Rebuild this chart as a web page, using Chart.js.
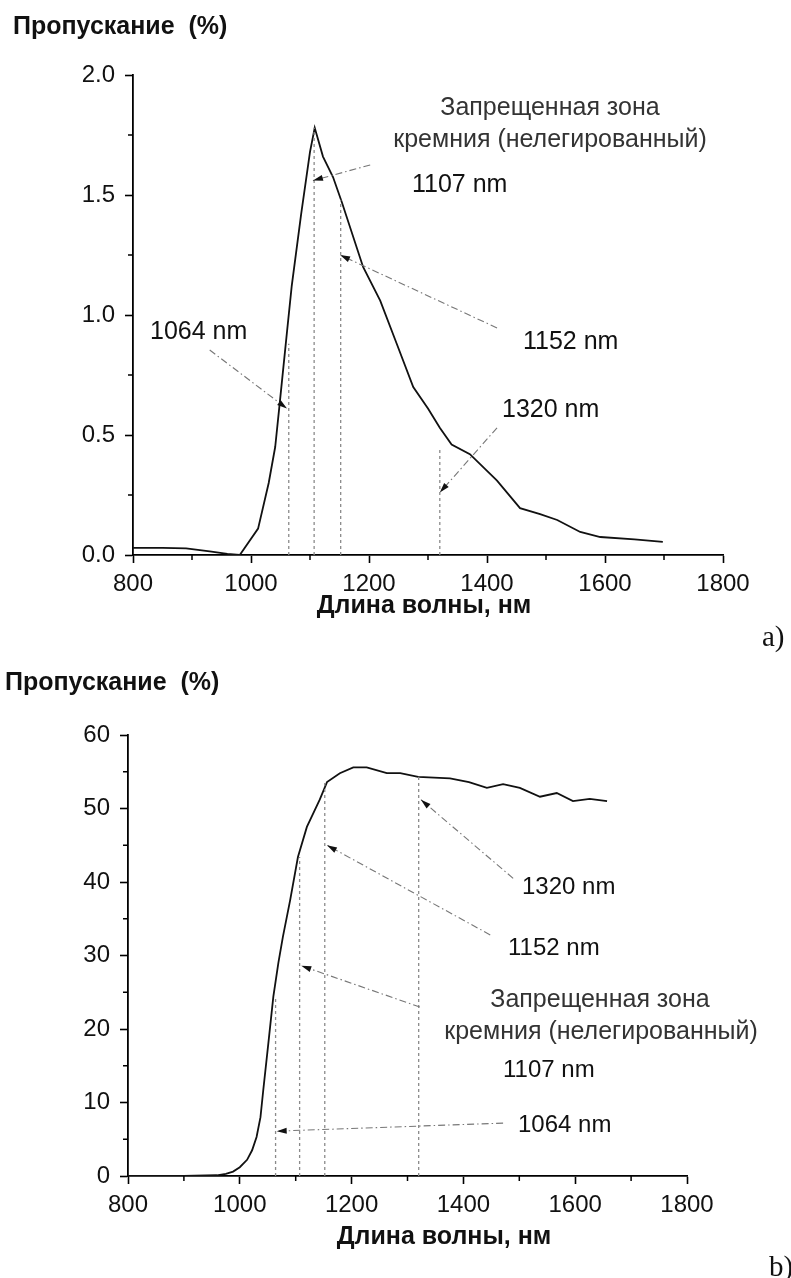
<!DOCTYPE html>
<html>
<head>
<meta charset="utf-8">
<script src="https://cdn.jsdelivr.net/npm/chart.js@4.4.1/dist/chart.umd.min.js"></script>
<style>
  body { margin: 0; background: #fff; width: 791px; height: 1278px; overflow: hidden; position: relative; }
  .wrap { position: absolute; left: 0; width: 791px; }
  #wrapA { top: 0; height: 640px; }
  #wrapB { top: 640px; height: 638px; }
  .tag { position: absolute; font-family: 'Liberation Serif', 'Times New Roman', serif; font-size: 29px; color: #111; }
</style>
</head>
<body>
<div class="wrap" id="wrapA"><canvas id="chartA"></canvas></div>
<div class="wrap" id="wrapB"><canvas id="chartB"></canvas></div>
<div class="tag" style="left:762px; top:620px;">a)</div>
<div class="tag" style="left:769px; top:1250px;">b)</div>
<script>
// chart a: пропускание, %
const wavelengthA = [800, 850, 890, 930, 960, 981, 1012, 1030, 1041, 1049, 1061, 1069, 1085, 1100, 1108, 1122, 1139, 1154, 1190, 1219, 1247, 1275, 1300, 1320, 1340, 1371, 1417, 1456, 1490, 1519, 1558, 1592, 1650, 1698];
const transmissionA = [0.03, 0.03, 0.028, 0.015, 0.005, 0.0, 0.11, 0.3, 0.45, 0.64, 0.93, 1.12, 1.42, 1.68, 1.78, 1.66, 1.575, 1.47, 1.2, 1.06, 0.88, 0.70, 0.61, 0.53, 0.46, 0.42, 0.31, 0.195, 0.17, 0.146, 0.096, 0.075, 0.065, 0.055];

// chart b
const wavelengthB = [800, 900, 959, 975, 988, 1000, 1013, 1022, 1030, 1037, 1042, 1051, 1060, 1069, 1077, 1090, 1104, 1120, 1143, 1156, 1179, 1203, 1227, 1263, 1287, 1319, 1376, 1410, 1442, 1471, 1501, 1537, 1567, 1596, 1626, 1657];
const transmissionB = [0, 0, 0.1, 0.3, 0.6, 1.2, 2.2, 3.5, 5.3, 8, 11.7, 18, 24.4, 29, 32.5, 37.5, 43.4, 47.5, 51.2, 53.6, 54.8, 55.6, 55.6, 54.8, 54.8, 54.3, 54.1, 53.6, 52.8, 53.3, 52.8, 51.6, 52.1, 51.0, 51.3, 51.0];

// laser / band-gap wavelengths
const markerNm = [1064, 1107, 1152, 1320];
const markerTopA = [0.88, 1.78, 1.48, 0.45];
const markerTopB = [24.4, 43.4, 53.6, 54.3];

const FONT = "'Liberation Sans', Arial, sans-serif";

// leaders in data units: [fromNm, fromValue, toNm, toValue]
const leadersA = [
  [930, 0.854, 1061, 0.61],
  [1202, 1.625, 1105, 1.56],
  [1417, 0.946, 1151, 1.25],
  [1417, 0.53, 1320, 0.26]
];
const leadersB = [
  [1471, 7.2, 1066, 6.1],
  [1322, 23, 1110, 28.6],
  [1448, 32.8, 1156, 45],
  [1489, 40.5, 1324, 51.2]
];

const textsA = [
  { text: 'Пропускание  (%)', x: 13, y: 27, align: 'left', font: 'bold 25px ' + FONT },
  { text: 'Длина волны, нм', x: 424, y: 606, align: 'center', font: 'bold 25px ' + FONT },
  { text: 'Запрещенная зона', x: 550, y: 108, align: 'center', font: '25px ' + FONT, color: '#333' },
  { text: 'кремния (нелегированный)', x: 550, y: 140, align: 'center', font: '25px ' + FONT, color: '#333' },
  { text: '1107 nm', x: 412, y: 185, align: 'left', font: '25px ' + FONT },
  { text: '1064 nm', x: 150, y: 332, align: 'left', font: '25px ' + FONT },
  { text: '1152 nm', x: 523, y: 342, align: 'left', font: '25px ' + FONT },
  { text: '1320 nm', x: 502, y: 410, align: 'left', font: '25px ' + FONT }
];
const textsB = [
  { text: 'Пропускание  (%)', x: 5, y: 43, align: 'left', font: 'bold 25px ' + FONT },
  { text: 'Длина волны, нм', x: 444, y: 597, align: 'center', font: 'bold 25px ' + FONT },
  { text: '1320 nm', x: 522, y: 247, align: 'left', font: '24px ' + FONT },
  { text: '1152 nm', x: 508, y: 308, align: 'left', font: '24px ' + FONT },
  { text: 'Запрещенная зона', x: 600, y: 360, align: 'center', font: '25px ' + FONT, color: '#333' },
  { text: 'кремния (нелегированный)', x: 601, y: 392, align: 'center', font: '25px ' + FONT, color: '#333' },
  { text: '1107 nm', x: 503, y: 430, align: 'left', font: '24px ' + FONT },
  { text: '1064 nm', x: 518, y: 485, align: 'left', font: '24px ' + FONT }
];

// vertical marker lines, leader arrows and free text
const markersPlugin = {
  id: 'markers',
  afterDatasetsDraw(chart, args, opts) {
    const { ctx } = chart;
    const x = chart.scales.x, y = chart.scales.y;
    ctx.save();
    ctx.strokeStyle = '#8a8a8a';
    ctx.lineWidth = 1.3;
    ctx.setLineDash([3, 3]);
    opts.markers.forEach((nm, i) => {
      const px = x.getPixelForValue(nm);
      ctx.beginPath();
      ctx.moveTo(px, y.getPixelForValue(0));
      ctx.lineTo(px, y.getPixelForValue(opts.tops[i]));
      ctx.stroke();
    });

    opts.leaders.forEach(l => {
      const x1 = x.getPixelForValue(l[0]), y1 = y.getPixelForValue(l[1]);
      const x2 = x.getPixelForValue(l[2]), y2 = y.getPixelForValue(l[3]);
      ctx.strokeStyle = '#777';
      ctx.lineWidth = 1.1;
      ctx.setLineDash([7, 3, 1.5, 3]);
      ctx.beginPath();
      ctx.moveTo(x1, y1);
      ctx.lineTo(x2, y2);
      ctx.stroke();
      const a = Math.atan2(y2 - y1, x2 - x1);
      ctx.setLineDash([]);
      ctx.fillStyle = '#111';
      ctx.beginPath();
      ctx.moveTo(x2, y2);
      ctx.lineTo(x2 - 10 * Math.cos(a) + 3 * Math.sin(a), y2 - 10 * Math.sin(a) - 3 * Math.cos(a));
      ctx.lineTo(x2 - 10 * Math.cos(a) - 3 * Math.sin(a), y2 - 10 * Math.sin(a) + 3 * Math.cos(a));
      ctx.closePath();
      ctx.fill();
    });

    ctx.textBaseline = 'middle';
    opts.texts.forEach(t => {
      ctx.font = t.font;
      ctx.fillStyle = t.color || '#111';
      ctx.textAlign = t.align;
      ctx.fillText(t.text, t.x, t.y);
    });
    ctx.restore();
  }
};

// short minor ticks between the labelled ones
const minorTicksPlugin = {
  id: 'minorTicks',
  afterDraw(chart, args, opts) {
    const { ctx } = chart;
    const x = chart.scales.x, y = chart.scales.y;
    ctx.save();
    ctx.strokeStyle = '#000';
    ctx.lineWidth = 1.5;
    ctx.beginPath();
    for (let v = x.min + opts.xStep; v < x.max; v += opts.xStep * 2) {
      const px = x.getPixelForValue(v);
      ctx.moveTo(px, x.top);
      ctx.lineTo(px, x.top + 5);
    }
    for (let v = y.min + opts.yStep; v < y.max; v += opts.yStep * 2) {
      const py = y.getPixelForValue(v);
      ctx.moveTo(y.right, py);
      ctx.lineTo(y.right - 5, py);
    }
    ctx.stroke();
    ctx.restore();
  }
};

function makeChart(id, xs, ys, cfg) {
  const ctx = document.getElementById(id).getContext('2d');
  const axisGrid = {
    drawOnChartArea: false,
    drawTicks: true,
    tickLength: 8,
    tickColor: '#000',
    tickWidth: 1.6
  };
  return new Chart(ctx, {
    type: 'line',
    data: {
      datasets: [{
        data: xs.map((v, i) => ({ x: v, y: ys[i] })),
        borderColor: '#111',
        borderWidth: 1.8,
        pointRadius: 0,
        tension: 0,
        fill: false
      }]
    },
    options: {
      responsive: true,
      maintainAspectRatio: false,
      animation: false,
      layout: {
        padding: { top: cfg.top, right: cfg.right, bottom: 0, left: 0 }
      },
      plugins: {
        legend: { display: false },
        tooltip: { enabled: false },
        markers: { markers: markerNm, tops: cfg.tops, leaders: cfg.leaders, texts: cfg.texts },
        minorTicks: { xStep: 100, yStep: cfg.yStep / 2 }
      },
      scales: {
        x: {
          type: 'linear',
          min: 800,
          max: 1800,
          afterFit: s => { s.height = cfg.xHeight; },
          border: { color: '#000', width: 1.8 },
          grid: axisGrid,
          ticks: {
            stepSize: 200,
            padding: 7,
            color: '#111',
            font: { family: FONT, size: 24 },
            maxRotation: 0,
            callback: v => String(v)
          }
        },
        y: {
          min: 0,
          max: cfg.yMax,
          afterFit: s => { s.width = cfg.left; },
          border: { color: '#000', width: 1.8 },
          grid: axisGrid,
          ticks: {
            stepSize: cfg.yStep,
            padding: 10,
            color: '#111',
            font: { family: FONT, size: 24 },
            callback: cfg.yFormat
          }
        }
      }
    },
    plugins: [markersPlugin, minorTicksPlugin]
  });
}

makeChart('chartA', wavelengthA, transmissionA, {
  top: 75, right: 68, left: 133, xHeight: 85,
  yMax: 2, yStep: 0.5,
  yFormat: v => v.toFixed(1),
  tops: markerTopA, leaders: leadersA, texts: textsA
});

makeChart('chartB', wavelengthB, transmissionB, {
  top: 95, right: 104, left: 128, xHeight: 102,
  yMax: 60, yStep: 10,
  yFormat: v => String(v),
  tops: markerTopB, leaders: leadersB, texts: textsB
});
</script>
</body>
</html>
